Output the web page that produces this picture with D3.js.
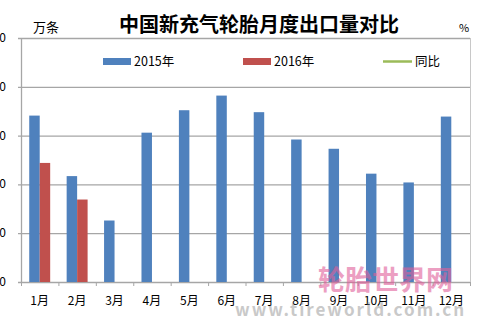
<!DOCTYPE html>
<html>
<head>
<meta charset="utf-8">
<script src="https://cdn.jsdelivr.net/npm/d3@7"></script>
<style>
  body { margin: 0; background: #fff; }
  svg { font-family: "Microsoft YaHei", "Noto Sans CJK SC", sans-serif; }
</style>
</head>
<body>
<div id="chart"></div>
<script>
// data (万条)
const months = ['1月', '2月', '3月', '4月', '5月', '6月', '7月', '8月', '9月', '10月', '11月', '12月'];
const series = ['2015年', '2016年'];
const values2015 = [3410, 2170, 1260, 3060, 3520, 3820, 3480, 2920, 2730, 2220, 2040, 3390];
const values2016 = [2440, 1690, null, null, null, null, null, null, null, null, null, null];
const yTicks = [0, 1000, 2000, 3000, 4000, 5000];
const colors = ['#4f81bd', '#c0504d'];

const width = 481, height = 326;
const margin = {top: 38, right: 11, bottom: 44, left: 21};

const svg = d3.select('#chart').append('svg')
    .attr('width', width)
    .attr('height', height);

const x0 = d3.scaleBand()
    .domain(months)
    .range([margin.left, width - margin.right])
    .paddingInner(0.44)
    .paddingOuter(0.22);

const x1 = d3.scaleBand()
    .domain(series)
    .range([0, x0.bandwidth()]);

const y = d3.scaleLinear()
    .domain([0, 5000])
    .range([height - margin.bottom, margin.top]);

// gridlines
svg.append('g')
    .selectAll('line')
    .data(yTicks)
    .join('line')
    .attr('x1', margin.left - 3)
    .attr('x2', width - margin.right)
    .attr('y1', d => y(d) + 0.5)
    .attr('y2', d => y(d) + 0.5)
    .attr('stroke', '#a6a6a6')
    .attr('stroke-width', 1.3);

// left axis labels (mostly cut off by the edge)
svg.append('g')
    .selectAll('text')
    .data(yTicks)
    .join('text')
    .attr('x', 6)
    .attr('y', d => y(d) + 4)
    .attr('text-anchor', 'end')
    .attr('font-size', 12)
    .attr('fill', '#000')
    .text(d => d);

// axis lines
svg.append('line')
    .attr('x1', margin.left + 0.5).attr('x2', margin.left + 0.5)
    .attr('y1', margin.top).attr('y2', y(0))
    .attr('stroke', '#a6a6a6').attr('stroke-width', 1.3);
svg.append('line')
    .attr('x1', width - margin.right + 0.5).attr('x2', width - margin.right + 0.5)
    .attr('y1', margin.top).attr('y2', y(0))
    .attr('stroke', '#c8c8c8').attr('stroke-width', 1);

// x ticks between months
const step = x0.step();
svg.append('g')
    .selectAll('line')
    .data(d3.range(months.length + 1))
    .join('line')
    .attr('x1', i => margin.left + 0.5 + i * step * (width - margin.right - margin.left) / (step * months.length))
    .attr('x2', i => margin.left + 0.5 + i * step * (width - margin.right - margin.left) / (step * months.length))
    .attr('y1', y(0))
    .attr('y2', y(0) + 4)
    .attr('stroke', '#a6a6a6');

// bars
const groups = svg.append('g')
    .selectAll('g')
    .data(months.map((m, i) => ({month: m, vals: [values2015[i], values2016[i]]})))
    .join('g')
    .attr('transform', d => `translate(${x0(d.month)},0)`);

groups.selectAll('rect')
    .data(d => d.vals.map((v, j) => ({key: series[j], v: v, j: j})).filter(e => e.v != null))
    .join('rect')
    .attr('x', d => x1(d.key))
    .attr('y', d => y(d.v))
    .attr('width', x1.bandwidth())
    .attr('height', d => y(0) - y(d.v))
    .attr('fill', d => colors[d.j]);

// x labels
svg.append('g')
    .selectAll('text')
    .data(months)
    .join('text')
    .attr('x', d => x0(d) + x0.bandwidth() / 2)
    .attr('y', y(0) + 23)
    .attr('text-anchor', 'middle')
    .attr('font-size', 12)
    .attr('fill', '#000')
    .text(d => d);

// title and units
svg.append('text')
    .attr('x', 259).attr('y', 32)
    .attr('text-anchor', 'middle')
    .attr('font-size', 20)
    .attr('font-weight', 'bold')
    .attr('fill', '#000')
    .text('中国新充气轮胎月度出口量对比');

svg.append('text')
    .attr('x', 33).attr('y', 32)
    .attr('font-size', 13)
    .attr('fill', '#000')
    .text('万条');

svg.append('text')
    .attr('x', 459).attr('y', 32)
    .attr('font-size', 11)
    .attr('fill', '#000')
    .text('%');

// legend
const legend = [
    {label: '2015年', color: colors[0], type: 'rect', x: 103},
    {label: '2016年', color: colors[1], type: 'rect', x: 243},
    {label: '同比', color: '#9bbb59', type: 'line', x: 383}
];
const lg = svg.append('g')
    .selectAll('g')
    .data(legend)
    .join('g')
    .attr('transform', d => `translate(${d.x},61)`);

lg.filter(d => d.type === 'rect').append('rect')
    .attr('x', 0).attr('y', -3)
    .attr('width', 28).attr('height', 7)
    .attr('fill', d => d.color);
lg.filter(d => d.type === 'line').append('line')
    .attr('x1', 0).attr('x2', 29)
    .attr('y1', 0.5).attr('y2', 0.5)
    .attr('stroke', d => d.color)
    .attr('stroke-width', 2.5);
lg.append('text')
    .attr('x', d => d.type === 'line' ? 32 : 31)
    .attr('y', 5)
    .attr('font-size', 12.5)
    .attr('fill', '#000')
    .text(d => d.label);

// watermark
svg.append('text')
    .attr('x', 318).attr('y', 290)
    .attr('font-size', 27)
    .attr('font-weight', 'bold')
    .attr('fill', '#e0609a')
    .attr('opacity', 0.6)
    .text('轮胎世界网');
svg.append('text')
    .attr('x', 235).attr('y', 316)
    .attr('font-size', 17)
    .attr('font-weight', 'bold')
    .attr('letter-spacing', 2)
    .attr('fill', '#888')
    .attr('opacity', 0.45)
    .text('www.tireworld.com.cn');
</script>
</body>
</html>
